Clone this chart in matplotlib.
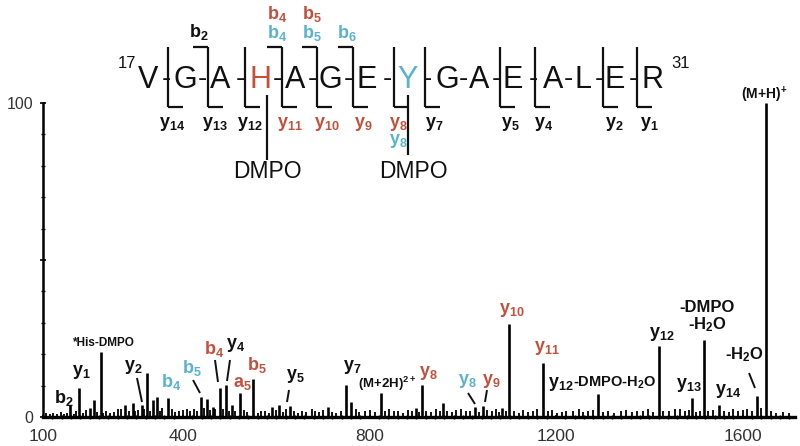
import matplotlib
matplotlib.use('Agg')
import matplotlib.pyplot as plt

plt.rcParams['font.family'] = ['Liberation Sans', 'DejaVu Sans']
plt.rcParams['mathtext.fontset'] = 'custom'
plt.rcParams['mathtext.rm'] = 'Liberation Sans'
plt.rcParams['mathtext.bf'] = 'Liberation Sans:bold'
plt.rcParams['mathtext.it'] = 'Liberation Sans:italic'

RED = '#c4503c'
BLUE = '#5ab2d0'
INK = '#111111'

# ---------------- data ----------------
peak_mz = [158, 177, 201, 209, 224, 276, 293, 312, 323, 336, 344, 368, 439, 452,
           464, 479, 492, 505, 522, 550, 591, 606, 629, 711, 750, 760, 825, 900,
           912, 957, 1026, 1043, 1084, 1099, 1172, 1290, 1420, 1491, 1517, 1549,
           1631, 1650]
peak_int = [3.8, 9.2, 2.9, 5.4, 20.7, 3.8, 4.5, 3.8, 14.0, 5.4, 6.4, 6.0, 6.4, 5.7,
            3.2, 9.2, 10.2, 3.8, 7.6, 12.1, 3.2, 3.8, 3.5, 3.2, 10.2, 4.8, 7.6, 2.9,
            10.2, 4.5, 3.2, 3.5, 2.9, 29.6, 17.2, 7.3, 22.6, 6.0, 24.5, 3.8,
            6.7, 100.0]

noise_mz = [106, 114, 122, 130, 138, 146, 152, 166, 170, 186,
            192, 216, 228, 236, 244, 252, 260, 268, 284, 298,
            304, 316, 330, 350, 356, 376, 384, 392, 400, 408,
            416, 424, 430, 446, 458, 468, 486, 498, 512, 530,
            538, 560, 568, 576, 584, 600, 614, 620, 638, 646,
            656, 664, 676, 684, 692, 700, 720, 728, 738, 770,
            778, 790, 800, 812, 834, 842, 852, 862, 872, 882,
            892, 906, 922, 932, 942, 950, 966, 976, 986, 996,
            1006, 1016, 1034, 1052, 1062, 1070, 1078, 1092, 1110, 1120,
            1130, 1140, 1150, 1160, 1182, 1192, 1202, 1212, 1222, 1236,
            1248, 1258, 1268, 1280, 1300, 1312, 1324, 1338, 1350, 1362,
            1374, 1386, 1396, 1408, 1430, 1442, 1454, 1466, 1476, 1484,
            1500, 1508, 1526, 1536, 1560, 1570, 1580, 1590, 1600, 1610,
            1620, 1640, 1660, 1672, 1686, 1700]
noise_int = [1.2, 0.9, 1.4, 1.0, 1.6, 1.1, 1.3, 1.0, 1.8, 1.2,
             2.2, 1.5, 1.2, 2.0, 1.4, 1.6, 2.4, 2.6, 1.8, 2.0,
             2.2, 2.6, 2.0, 1.8, 2.8, 2.4, 1.6, 2.0, 2.2, 2.6,
             1.8, 2.4, 2.0, 2.8, 2.2, 2.6, 2.4, 2.0, 1.8, 2.2,
             1.6, 1.4, 2.0, 1.8, 1.4, 2.2, 1.6, 2.6, 1.8, 1.4,
             2.0, 1.6, 2.4, 1.8, 1.6, 2.2, 1.6, 1.4, 2.0, 2.4,
             1.6, 1.8, 2.2, 1.6, 2.0, 2.6, 1.8, 2.0, 1.4, 2.2,
             1.8, 1.6, 2.0, 1.6, 2.4, 1.8, 2.0, 1.6, 2.2, 2.4,
             1.8, 2.0, 1.6, 2.2, 1.8, 2.6, 1.6, 2.0, 1.8, 1.4,
             2.2, 1.6, 2.0, 2.4, 1.8, 2.2, 1.4, 1.6, 2.0, 1.8,
             2.4, 1.6, 1.8, 2.2, 1.6, 2.0, 1.4, 1.8, 2.2, 1.6,
             1.8, 2.0, 2.4, 1.6, 1.8, 2.0, 2.4, 2.6, 1.8, 2.2,
             1.6, 2.0, 1.8, 2.2, 2.0, 1.6, 2.4, 1.8, 2.2, 2.6,
             2.0, 2.8, 1.8, 1.4, 1.6, 1.2]

x_ticks = [100, 400, 800, 1200, 1600]
y_ticks = [0, 50, 100]
y_tick_labels = ['0', '', '100']

sequence = ['V', 'G', 'A', 'H', 'A', 'G', 'E', 'Y', 'G', 'A', 'E', 'A', 'L', 'E', 'R']
seq_colors = [INK, INK, INK, RED, INK, INK, INK, BLUE, INK, INK, INK, INK, INK, INK, INK]
seq_start, seq_end = '17', '31'

# ---------------- figure ----------------
W, H = 800, 446
fig = plt.figure(figsize=(W / 100, H / 100), dpi=100)
ax = fig.add_axes([43 / W, 1 - 417 / H, (795 - 43) / W, (417 - 103) / H])
ax.vlines(noise_mz, 0, noise_int, color='k', lw=1.3)
ax.vlines(peak_mz, 0, peak_int, color='k', lw=1.9)
ax.set_xlim(100, 1712)
ax.set_ylim(0, 100)
for s in ['top', 'right']:
    ax.spines[s].set_visible(False)
ax.spines['left'].set_linewidth(1.8)
ax.spines['bottom'].set_linewidth(2.4)
ax.set_xticks(x_ticks)
ax.set_xticklabels([str(v) for v in x_ticks])
ax.set_xticks(range(120, 1712, 20), minor=True)
ax.set_yticks(y_ticks)
ax.set_yticklabels(y_tick_labels)
ax.set_yticks(range(10, 100, 10), minor=True)
ax.tick_params(axis='x', which='major', length=3, width=1.2, direction='inout',
               labelsize=12.5, labelcolor='#333333', pad=7)
ax.tick_params(axis='x', which='minor', length=3, width=1.0, direction='inout')
ax.tick_params(axis='y', which='major', length=4, width=1.2, direction='inout',
               labelsize=11.5, labelcolor='#333333', pad=5)
ax.tick_params(axis='y', which='minor', length=2.5, width=1.0, direction='inout')

# overlay in pixel coordinates for annotations
ov = fig.add_axes([0, 0, 1, 1])
ov.set_xlim(0, W)
ov.set_ylim(H, 0)
ov.axis('off')
ov.patch.set_alpha(0)


def ion(letter, num):
    return r'$\mathbf{%s}_{\mathbf{%s}}$' % (letter, num)


def txt(x, y, s, color=INK, size=13, weight='bold', ha='center', va='center'):
    ov.text(x, y, s, color=color, fontsize=size, fontweight=weight, ha=ha, va=va)


def line(x0, y0, x1, y1, lw=1.4):
    ov.plot([x0, x1], [y0, y1], color=INK, lw=lw, solid_capstyle='butt')


# ---- peptide sequence ----
letter_x = [148, 185, 220, 260, 295, 330, 367, 408, 447, 479, 513, 553, 583, 615, 652]
SEQ_Y = 80
for ch, lx, c in zip(sequence, letter_x, seq_colors):
    ov.text(lx, SEQ_Y, ch, color=c, fontsize=22, ha='center', va='center')
for a, b in zip(letter_x[:-1], letter_x[1:]):
    ov.text((a + b) / 2, SEQ_Y - 1, '-', color=INK, fontsize=20, ha='center', va='center')
txt(127, 63, seq_start, size=12, weight='normal')
txt(681, 63, seq_end, size=12, weight='normal')

# brackets: (x, b-ion top hook, y-ion bottom hook)
sites = [(168, False, True), (208, True, True), (245, False, True), (282, True, True),
         (317, True, True), (353, True, True), (394, False, True), (425, False, True),
         (500, False, True), (535, False, True), (603, False, True), (637, False, True)]
TOP, BOT, HOOK = 47, 107, 15
for sx, bt, yb in sites:
    line(sx, TOP, sx, BOT, lw=1.6)
    if bt:
        line(sx - HOOK, TOP, sx, TOP, lw=1.6)
    if yb:
        line(sx, BOT, sx + HOOK, BOT, lw=1.6)

# sequence ion labels
txt(199, 32, ion('b', '2'))
txt(277, 14, ion('b', '4'), RED)
txt(312, 14, ion('b', '5'), RED)
txt(277, 33, ion('b', '4'), BLUE)
txt(312, 33, ion('b', '5'), BLUE)
txt(347, 33, ion('b', '6'), BLUE)
for lx, num, col in [(172, '14', INK), (215, '13', INK), (250, '12', INK), (290, '11', RED),
                     (327, '10', RED), (363, '9', RED), (398, '8', RED), (434, '7', INK),
                     (510, '5', INK), (544, '4', INK), (614, '2', INK), (649, '1', INK)]:
    txt(lx, 124, ion('y', num), col)
txt(398, 141, ion('y', '8'), BLUE)

# DMPO modifications
line(267, 95, 267, 160, lw=1.6)
line(408, 95, 408, 155, lw=1.6)
txt(267, 172, 'DMPO', size=16.5, weight='normal')
txt(413, 172, 'DMPO', size=16.5, weight='normal')

# ---- spectrum annotations ----
txt(64, 398, ion('b', '2'))
txt(81, 372, ion('y', '1'))
txt(104, 343, '*His-DMPO', size=8.5)
txt(133, 367, ion('y', '2'))
line(137, 378, 142, 402)
txt(171, 382, ion('b', '4'), BLUE)
txt(192, 368, ion('b', '5'), BLUE)
line(193, 380, 200, 393)
txt(214, 349, ion('b', '4'), RED)
line(215, 360, 218, 382)
txt(236, 345, ion('y', '4'))
line(230, 360, 227, 381)
txt(242, 383, ion('a', '5'), RED)
txt(257, 365, ion('b', '5'), RED)
txt(295, 376, ion('y', '5'))
line(289, 390, 287, 402)
txt(352, 367, ion('y', '7'))
txt(387, 384, r'(M+2H)$^{\mathbf{2+}}$', size=9.5)
txt(428, 373, ion('y', '8'), RED)
txt(467, 381, ion('y', '8'), BLUE)
line(468, 393, 475, 404)
txt(491, 381, ion('y', '9'), RED)
line(487, 390, 485, 402)
txt(512, 310, ion('y', '10'), RED)
txt(547, 348, ion('y', '11'), RED)
txt(561, 384, ion('y', '12'))
txt(573, 383, r'-DMPO-H$_{\mathbf{2}}$O', size=10.5, ha='left')
txt(662, 334, ion('y', '12'))
txt(707, 307, '-DMPO', size=12)
txt(707, 325, r'-H$_{\mathbf{2}}$O', size=12)
txt(689, 385, ion('y', '13'))
txt(728, 391, ion('y', '14'))
txt(744, 355, r'-H$_{\mathbf{2}}$O', size=12)
line(749, 373, 755, 388)
txt(764, 95, r'(M+H)$^{\mathbf{+}}$', size=10)

fig.savefig('out.png', dpi=100)
